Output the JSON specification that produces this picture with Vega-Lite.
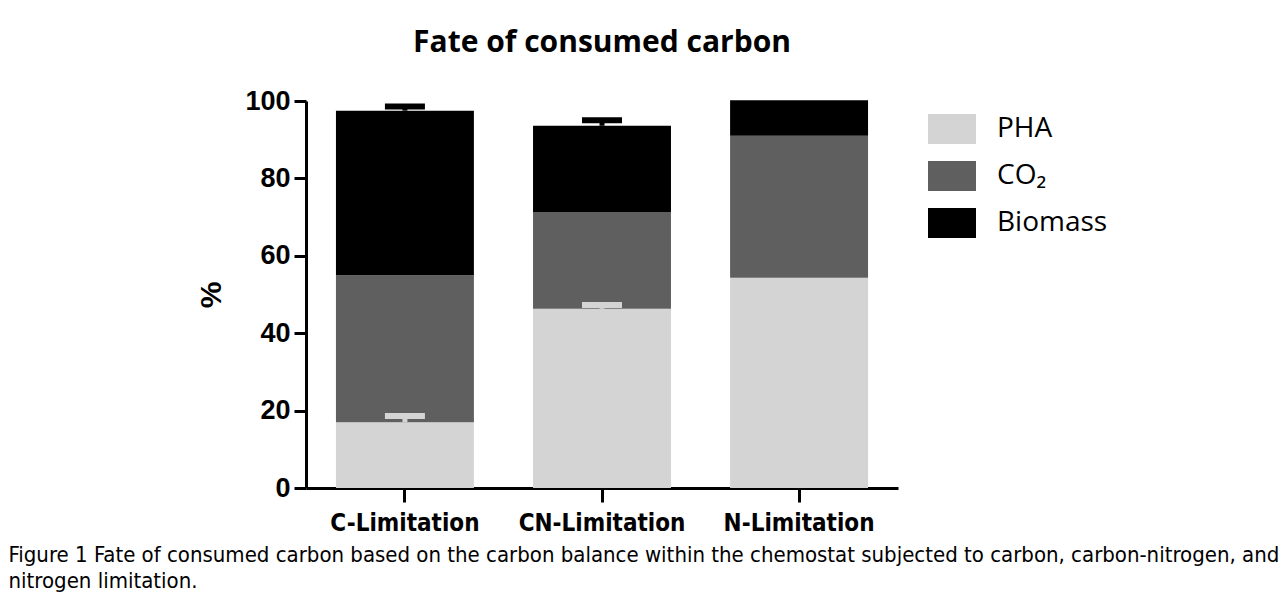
{
  "$schema": "https://vega.github.io/schema/vega-lite/v6.json",
  "autosize": {"type": "none"},
  "padding": {"left": 306, "top": 101, "right": 384, "bottom": 107},
  "width": 592,
  "height": 387,
  "background": "white",
  "title": {
    "text": "Fate of consumed carbon",
    "font": "Open Sans",
    "fontSize": 30,
    "fontWeight": "bold",
    "color": "black",
    "anchor": "middle",
    "frame": "group",
    "offset": 29
  },
  "datasets": {
    "bars": [
      {"condition": "C-Limitation", "component": "PHA", "value": 17.0, "rank": 1},
      {"condition": "C-Limitation", "component": "CO₂", "value": 38.0, "rank": 2},
      {"condition": "C-Limitation", "component": "Biomass", "value": 42.5, "rank": 3},
      {"condition": "CN-Limitation", "component": "PHA", "value": 46.3, "rank": 1},
      {"condition": "CN-Limitation", "component": "CO₂", "value": 25.0, "rank": 2},
      {"condition": "CN-Limitation", "component": "Biomass", "value": 22.3, "rank": 3},
      {"condition": "N-Limitation", "component": "PHA", "value": 54.3, "rank": 1},
      {"condition": "N-Limitation", "component": "CO₂", "value": 36.7, "rank": 2},
      {"condition": "N-Limitation", "component": "Biomass", "value": 9.2, "rank": 3}
    ],
    "errors": [
      {"condition": "C-Limitation", "component": "PHA", "top": 17.0, "upper": 18.6},
      {"condition": "C-Limitation", "component": "Biomass", "top": 97.5, "upper": 98.6},
      {"condition": "CN-Limitation", "component": "PHA", "top": 46.3, "upper": 47.3},
      {"condition": "CN-Limitation", "component": "Biomass", "top": 93.6, "upper": 95.0}
    ]
  },
  "layer": [
    {
      "data": {"name": "bars"},
      "mark": {"type": "bar"},
      "encoding": {
        "x": {
          "field": "condition",
          "type": "nominal",
          "sort": ["C-Limitation", "CN-Limitation", "N-Limitation"],
          "scale": {"paddingInner": 0.3, "paddingOuter": 0.152},
          "axis": {
            "title": ["Figure 1 Fate of consumed carbon based on the carbon balance within the chemostat subjected to carbon, carbon-nitrogen, and", "nitrogen limitation."],
            "titleX": -298,
            "titleY": 73,
            "titleAlign": "left",
            "titleAnchor": null,
            "titleBaseline": "alphabetic",
            "titleFont": "DejaVu Sans Condensed",
            "titleFontSize": 22,
            "titleFontWeight": "normal",
            "titleLineHeight": 26,
            "titleColor": "black",
            "titleLimit": 1400,
            "labelAngle": 0,
            "labelFont": "DejaVu Sans Condensed",
            "labelFontSize": 24,
            "labelFontWeight": "bold",
            "labelColor": "black",
            "labelPadding": 9,
            "labelLimit": 400,
            "domainColor": "black",
            "domainWidth": 3,
            "tickColor": "black",
            "tickWidth": 3,
            "tickSize": 14
          }
        },
        "y": {
          "field": "value",
          "type": "quantitative",
          "stack": "zero",
          "scale": {"domain": [0, 100], "nice": false},
          "axis": {
            "title": "%",
            "titleFont": "Liberation Sans",
            "titleFontSize": 30,
            "titleFontWeight": "bold",
            "titleColor": "black",
            "titlePadding": 18,
            "values": [0, 20, 40, 60, 80, 100],
            "labelFont": "Liberation Sans",
            "labelFontSize": 27,
            "labelFontWeight": "bold",
            "labelColor": "black",
            "labelPadding": 4,
            "domainColor": "black",
            "domainWidth": 3,
            "tickColor": "black",
            "tickWidth": 3,
            "tickSize": 12,
            "grid": false
          }
        },
        "color": {
          "field": "component",
          "type": "nominal",
          "scale": {"domain": ["PHA", "CO₂", "Biomass"], "range": ["#d4d4d4", "#5f5f5f", "#000000"]},
          "legend": {
            "title": null,
            "orient": "none",
            "legendX": 622,
            "legendY": 4,
            "padding": 0,
            "rowPadding": 8,
            "symbolType": "M-1,-0.625H1V0.625H-1Z",
            "symbolSize": 2304,
            "symbolStrokeWidth": 0,
            "labelFont": "Open Sans",
            "labelFontSize": 28,
            "labelColor": "black",
            "labelOffset": 21
          }
        },
        "order": {"field": "rank", "type": "quantitative"}
      }
    },
    {
      "data": {"name": "errors"},
      "transform": [{"filter": "datum.component === 'PHA'"}],
      "mark": {"type": "rule", "color": "#d4d4d4", "strokeWidth": 5},
      "encoding": {
        "x": {"field": "condition", "type": "nominal", "sort": ["C-Limitation", "CN-Limitation", "N-Limitation"]},
        "y": {"field": "top", "type": "quantitative"},
        "y2": {"field": "upper"}
      }
    },
    {
      "data": {"name": "errors"},
      "transform": [{"filter": "datum.component === 'PHA'"}],
      "mark": {"type": "tick", "color": "#d4d4d4", "size": 40, "thickness": 6, "opacity": 1},
      "encoding": {
        "x": {"field": "condition", "type": "nominal", "sort": ["C-Limitation", "CN-Limitation", "N-Limitation"]},
        "y": {"field": "upper", "type": "quantitative"}
      }
    },
    {
      "data": {"name": "errors"},
      "transform": [{"filter": "datum.component === 'Biomass'"}],
      "mark": {"type": "rule", "color": "#000000", "strokeWidth": 5},
      "encoding": {
        "x": {"field": "condition", "type": "nominal", "sort": ["C-Limitation", "CN-Limitation", "N-Limitation"]},
        "y": {"field": "top", "type": "quantitative"},
        "y2": {"field": "upper"}
      }
    },
    {
      "data": {"name": "errors"},
      "transform": [{"filter": "datum.component === 'Biomass'"}],
      "mark": {"type": "tick", "color": "#000000", "size": 40, "thickness": 6, "opacity": 1},
      "encoding": {
        "x": {"field": "condition", "type": "nominal", "sort": ["C-Limitation", "CN-Limitation", "N-Limitation"]},
        "y": {"field": "upper", "type": "quantitative"}
      }
    }
  ],
  "config": {
    "view": {"stroke": null}
  }
}
